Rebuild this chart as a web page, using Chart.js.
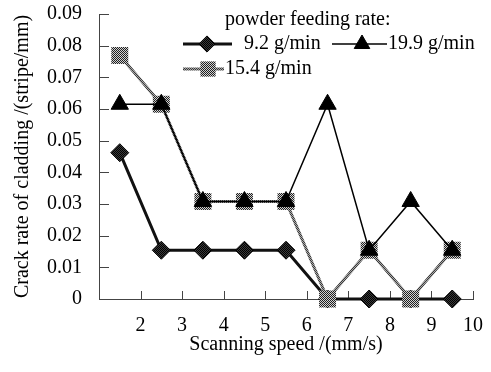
<!DOCTYPE html>
<html lang="en">
<head>
    <meta charset="UTF-8">
    <title>Crack rate of cladding</title>
    <script src="https://cdn.jsdelivr.net/npm/chart.js"></script>
    <style>
        html, body { margin: 0; padding: 0; background: #fff; }
    </style>
</head>
<body>
    <canvas id="crackChart" width="491" height="372"></canvas>
    <script>
        // scanning speed (mm/s) for each sample, points sit between the ticks
        const speeds = [1.5, 2.5, 3.5, 4.5, 5.5, 6.5, 7.5, 8.5, 9.5];
        const xTicks = [2, 3, 4, 5, 6, 7, 8, 9, 10];
        const yTicks = [0, 0.01, 0.02, 0.03, 0.04, 0.05, 0.06, 0.07, 0.08, 0.09];

        const rate92 = [0.0462, 0.0154, 0.0154, 0.0154, 0.0154, 0, 0, 0, 0];
        const rate154 = [0.0769, 0.0615, 0.0308, 0.0308, 0.0308, 0, 0.0154, 0, 0.0154];
        const rate199 = [0.0615, 0.0615, 0.0308, 0.0308, 0.0308, 0.0615, 0.0154, 0.0308, 0.0154];

        const seriesNames = ['9.2 g/min', '15.4 g/min', '19.9 g/min'];
        const legendTitle = 'powder feeding rate:';

        const FONT = 'Liberation Serif, Times New Roman, serif';
        const ctx = document.getElementById('crackChart').getContext('2d');

        // grey dithered fill like the old excel pattern
        function dither(light, dark) {
            const c = document.createElement('canvas');
            c.width = 2; c.height = 2;
            const g = c.getContext('2d');
            g.fillStyle = light; g.fillRect(0, 0, 2, 2);
            g.fillStyle = dark; g.fillRect(0, 0, 1, 1); g.fillRect(1, 1, 1, 1);
            return ctx.createPattern(c, 'repeat');
        }
        const greyPat = dither('#d0d0d0', '#202020');
        const greyLine = dither('#a8a8a8', '#3a3a3a');
        const darkPat = dither('#3a3a3a', '#000000');

        const points = (ys) => speeds.map((x, i) => ({ x: x, y: ys[i] }));

        const styles = [
            { pointStyle: 'rectRot', radius: 9, fill: darkPat, line: '#111', width: 3 },
            { pointStyle: 'rect', radius: 12, fill: greyPat, line: greyLine, width: 3 },
            { pointStyle: 'triangle', radius: 10, fill: '#000', line: '#000', width: 1.5 }
        ];

        // tick marks pointing into the plot
        const innerTicks = {
            id: 'innerTicks',
            beforeDatasetsDraw(chart) {
                const c = chart.ctx, a = chart.chartArea;
                const xs = chart.scales.x, ys = chart.scales.y;
                c.save();
                c.strokeStyle = '#444';
                c.lineWidth = 1;
                c.beginPath();
                xTicks.forEach(v => {
                    const px = Math.round(xs.getPixelForValue(v)) + 0.5;
                    c.moveTo(px, a.bottom);
                    c.lineTo(px, a.bottom - 8);
                });
                yTicks.forEach(v => {
                    const py = Math.round(ys.getPixelForValue(v)) + 0.5;
                    c.moveTo(a.left, py);
                    c.lineTo(a.left + 10, py);
                });
                c.stroke();
                c.restore();
            }
        };

        const boxLegend = {
            id: 'boxLegend',
            afterDraw(chart) {
                const c = chart.ctx;
                c.save();
                c.font = '20px ' + FONT;
                c.fillStyle = '#000';
                c.textBaseline = 'middle';
                c.textAlign = 'left';
                c.fillText(legendTitle, 225, 20);
                const rows = [
                    { s: 0, x0: 183, x1: 232, mx: 207, y: 44, tx: 244 },
                    { s: 2, x0: 332, x1: 387, mx: 362, y: 44, tx: 388 },
                    { s: 1, x0: 183, x1: 224, mx: 208, y: 69, tx: 225 }
                ];
                rows.forEach(r => {
                    const st = styles[r.s];
                    c.strokeStyle = st.line;
                    c.lineWidth = st.width;
                    c.beginPath();
                    c.moveTo(r.x0, r.y);
                    c.lineTo(r.x1, r.y);
                    c.stroke();
                    c.fillStyle = st.fill;
                    c.strokeStyle = '#000';
                    c.lineWidth = 1;
                    Chart.helpers.drawPoint(c, {
                        pointStyle: st.pointStyle,
                        radius: st.radius * 0.9,
                        rotation: 0,
                        borderWidth: st.pointStyle === 'rect' ? 0 : 1
                    }, r.mx, r.y);
                    c.fillStyle = '#000';
                    c.fillText(seriesNames[r.s], r.tx, r.y);
                });
                c.restore();
            }
        };

        const datasets = [rate92, rate154, rate199].map((ys, i) => ({
            label: seriesNames[i],
            data: points(ys),
            borderColor: styles[i].line,
            borderWidth: styles[i].width,
            pointStyle: styles[i].pointStyle,
            pointRadius: styles[i].radius,
            pointBackgroundColor: styles[i].fill,
            pointBorderColor: '#000',
            pointBorderWidth: i === 1 ? 0 : 1,
            tension: 0,
            fill: false,
            clip: false,
            order: 2 - i
        }));

        // invisible tick marks give the label gap without padding the chart area
        const gapGrid = (len) => ({
            display: true,
            drawOnChartArea: false,
            drawTicks: true,
            tickLength: len,
            tickColor: 'rgba(0,0,0,0)'
        });

        new Chart(ctx, {
            type: 'line',
            data: { datasets: datasets },
            options: {
                responsive: false,
                animation: false,
                devicePixelRatio: 1,
                layout: { padding: { top: 14, right: 18, bottom: 0, left: 0 } },
                plugins: {
                    legend: { display: false },
                    tooltip: { enabled: false }
                },
                scales: {
                    x: {
                        type: 'linear',
                        min: 1,
                        max: 10,
                        afterBuildTicks: axis => { axis.ticks = xTicks.map(v => ({ value: v })); },
                        afterFit: axis => { axis.height = 73; },
                        grid: gapGrid(15),
                        border: { display: true, color: '#444', width: 1 },
                        ticks: {
                            padding: 0,
                            color: '#000',
                            font: { family: FONT, size: 20 },
                            maxRotation: 0,
                            callback: v => String(v)
                        },
                        title: {
                            display: true,
                            text: 'Scanning speed /(mm/s)',
                            color: '#000',
                            font: { family: FONT, size: 20 },
                            padding: { top: 0, bottom: 15 }
                        }
                    },
                    y: {
                        min: 0,
                        max: 0.09,
                        afterBuildTicks: axis => { axis.ticks = yTicks.map(v => ({ value: v })); },
                        afterFit: axis => { axis.width = 99; },
                        grid: gapGrid(17),
                        border: { display: true, color: '#444', width: 1 },
                        ticks: {
                            padding: 0,
                            color: '#000',
                            font: { family: FONT, size: 20 },
                            callback: v => v === 0 ? '0' : v.toFixed(2)
                        },
                        title: {
                            display: true,
                            text: 'Crack rate of cladding /(stripe/mm)',
                            color: '#000',
                            font: { family: FONT, size: 20 },
                            padding: { top: 11, bottom: 0 }
                        }
                    }
                }
            },
            plugins: [innerTicks, boxLegend]
        });
    </script>
</body>
</html>
